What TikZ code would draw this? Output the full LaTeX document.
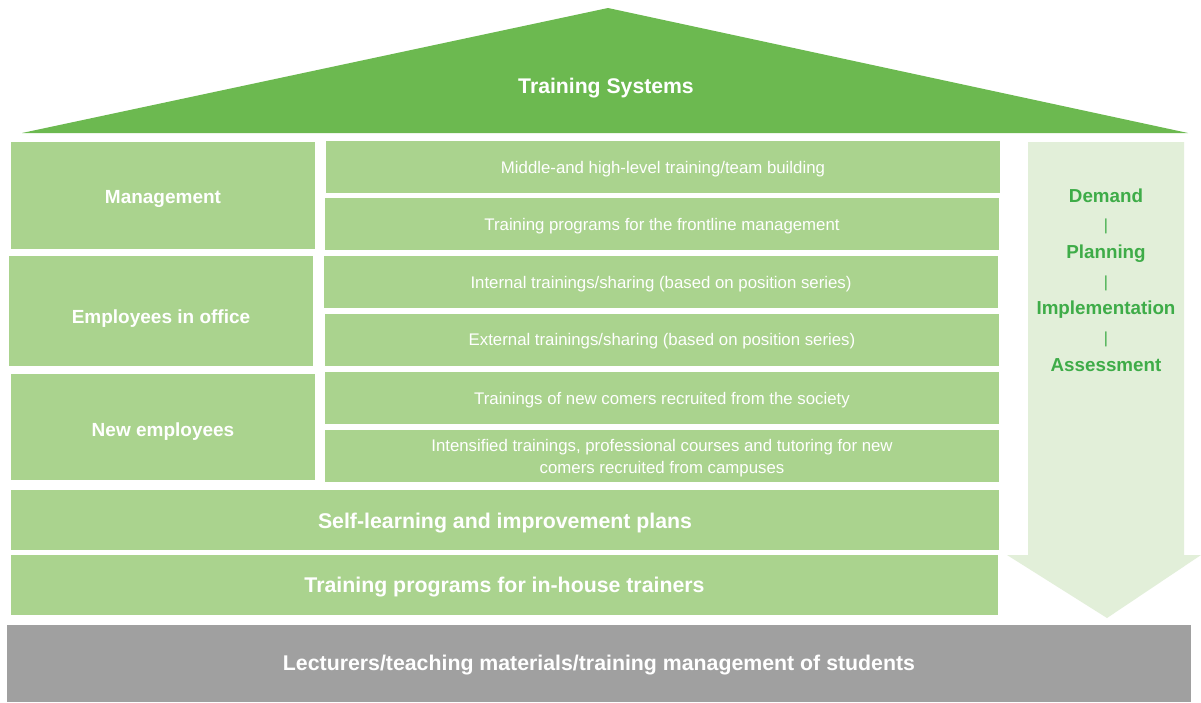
\documentclass[tikz,border=0pt]{standalone}
\usepackage{fontspec}
\setmainfont{Liberation Sans}
% shift the printed text down without changing its box
\newcommand\lowered[2]{\raisebox{-#1pt}[\height][\depth]{#2}}
\begin{document}
\definecolor{roofgreen}{RGB}{108,185,80}
\definecolor{boxgreen}{RGB}{170,211,142}
\definecolor{arrowgreen}{RGB}{226,239,217}
\definecolor{textgreen}{RGB}{62,172,72}
\definecolor{basegray}{RGB}{160,160,160}
\begin{tikzpicture}[x=1pt,y=-1pt,
  box/.style={fill=boxgreen, inner sep=0pt, align=center, text=white},
  grouptext/.style={font=\fontsize{19}{22}\selectfont\bfseries},
  layertext/.style={font=\fontsize{21.3}{24}\selectfont\bfseries},
  smalltext/.style={font=\fontsize{16.8}{22}\selectfont},
  steptext/.style={text=textgreen, font=\fontsize{18.8}{22}\selectfont\bfseries, inner sep=0pt},
  sep/.style={text=textgreen, font=\fontsize{16}{20}\selectfont, inner sep=0pt}]
  % canvas
  \fill[white] (0,0) rectangle (1201,702);
  \useasboundingbox (0,0) rectangle (1201,702);

  % roof
  \fill[roofgreen] (22,133) -- (608,8) -- (1188,133) -- cycle;
  \node[text=white, font=\fontsize{21.2}{24}\selectfont\bfseries] (roof) at (606,88) {Training Systems};

  % process arrow
  \fill[arrowgreen] (1028,142) -- (1184,142) -- (1184,555) -- (1201,555)
     -- (1107,618) -- (1007,555) -- (1028,555) -- cycle;
  \node[steptext] (demand) at (1106,196) {Demand};
  \node[sep] (s1) at (1106,226) {|};
  \node[steptext] (planning) at (1106,254) {Planning};
  \node[sep] (s2) at (1106,283) {|};
  \node[steptext] (implementation) at (1106,310) {Implementation};
  \node[sep] (s3) at (1106,339) {|};
  \node[steptext] (assessment) at (1106,365) {Assessment};

  % employee groups
  \node[box, grouptext, minimum width=304pt, minimum height=107pt] (mgmt) at (163,195.5) {\lowered{3}{Management}};
  \node[box, grouptext, minimum width=304pt, minimum height=110pt] (office) at (161,311) {\lowered{8}{Employees in office}};
  \node[box, grouptext, minimum width=304pt, minimum height=106pt] (newemp) at (163,427) {\lowered{5}{New employees}};

  % training programmes
  \node[box, smalltext, minimum width=674pt, minimum height=52pt] (p1) at (663,167) {\lowered{2}{Middle-and high-level training/team building}};
  \node[box, smalltext, minimum width=674pt, minimum height=52pt] (p2) at (662,224) {\lowered{2}{Training programs for the frontline management}};
  \node[box, smalltext, minimum width=674pt, minimum height=52pt] (p3) at (661,282) {\lowered{2}{Internal trainings/sharing (based on position series)}};
  \node[box, smalltext, minimum width=674pt, minimum height=52pt] (p4) at (662,340) {\lowered{1}{External trainings/sharing (based on position series)}};
  \node[box, smalltext, minimum width=674pt, minimum height=52pt] (p5) at (662,398) {\lowered{2}{Trainings of new comers recruited from the society}};
  \node[box, smalltext, minimum width=674pt, minimum height=52pt] (p6) at (662,456) {\lowered{2}{\begin{tabular}{@{}c@{}}Intensified trainings, professional courses and tutoring for new\\comers recruited from campuses\end{tabular}}};

  % full-width layers
  \node[box, layertext, minimum width=988pt, minimum height=60pt] (self) at (505,520) {\lowered{3}{Self-learning and improvement plans}};
  \node[box, layertext, minimum width=987pt, minimum height=60pt] (trainers) at (504.5,585) {\lowered{2}{Training programs for in-house trainers}};
  \node[fill=basegray, text=white, layertext, inner sep=0pt, minimum width=1184pt, minimum height=77pt] (base) at (599,663.5) {\lowered{2}{Lecturers/teaching materials/training management of students}};
\end{tikzpicture}
\end{document}
